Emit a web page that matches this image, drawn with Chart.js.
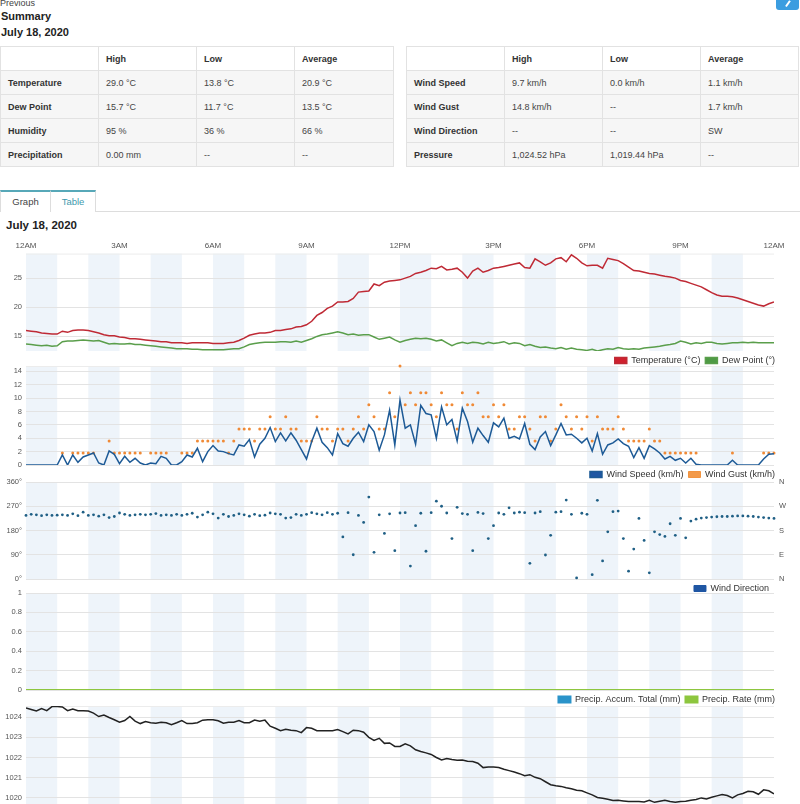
<!DOCTYPE html>
<html>
<head>
<meta charset="utf-8">
<script src="https://cdn.jsdelivr.net/npm/chart.js@4.4.1/dist/chart.umd.min.js"></script>
<style>
  html, body { margin: 0; padding: 0; background: #fff; }
  body { width: 800px; height: 804px; overflow: hidden; position: relative; font-family: "Liberation Sans", Arial, sans-serif; color: #333; }
  .abs { position: absolute; white-space: nowrap; }
  #prev { left: 0; top: -2px; font-size: 9px; color: #444; }
  .head { font-size: 11px; font-weight: bold; color: #222; line-height: 13px; }
  #btn { left: 776px; top: -12px; width: 23px; height: 22px; background: #3b9de0; border-radius: 3px; }
  #btn span { position: absolute; left: 11px; top: 12px; width: 1.5px; height: 7px; background: #fff; transform: rotate(35deg); }
  table.sum { position: absolute; top: 46px; border-collapse: collapse; table-layout: fixed; font-size: 9px; }
  table.sum td { border: 1px solid #e2e2e2; height: 23px; padding: 0 0 0 7px; color: #444; background: #f6f6f6; }
  table.sum tr:first-child td { background: #fff; font-weight: bold; color: #333; }
  table.sum td:first-child { font-weight: bold; color: #333; }
  #tabline { left: 0; top: 211px; width: 800px; height: 1px; background: #ddd; }
  .tab { position: absolute; top: 190px; height: 20px; border-top: 2px solid #57a8b8; border-left: 1px solid #ddd; font-size: 9.5px; line-height: 20px; text-align: center; background: #fff; }
  canvas { position: absolute; left: 0; }
</style>
</head>
<body>
<div id="prev" class="abs">Previous</div>
<div class="abs head" style="left:1px;top:10px">Summary</div>
<div class="abs head" style="left:1px;top:26px">July 18, 2020</div>
<div id="btn" class="abs"><span></span></div>

<table class="sum" style="left:0;width:393px">
  <colgroup><col style="width:98px"><col style="width:98px"><col style="width:98px"><col style="width:99px"></colgroup>
  <tr><td></td><td>High</td><td>Low</td><td>Average</td></tr>
  <tr><td>Temperature</td><td>29.0 °C</td><td>13.8 °C</td><td>20.9 °C</td></tr>
  <tr><td>Dew Point</td><td>15.7 °C</td><td>11.7 °C</td><td>13.5 °C</td></tr>
  <tr><td>Humidity</td><td>95 %</td><td>36 %</td><td>66 %</td></tr>
  <tr><td>Precipitation</td><td>0.00 mm</td><td>--</td><td>--</td></tr>
</table>
<table class="sum" style="left:406px;width:392px">
  <colgroup><col style="width:98px"><col style="width:98px"><col style="width:98px"><col style="width:98px"></colgroup>
  <tr><td></td><td>High</td><td>Low</td><td>Average</td></tr>
  <tr><td>Wind Speed</td><td>9.7 km/h</td><td>0.0 km/h</td><td>1.1 km/h</td></tr>
  <tr><td>Wind Gust</td><td>14.8 km/h</td><td>--</td><td>1.7 km/h</td></tr>
  <tr><td>Wind Direction</td><td>--</td><td>--</td><td>SW</td></tr>
  <tr><td>Pressure</td><td>1,024.52 hPa</td><td>1,019.44 hPa</td><td>--</td></tr>
</table>

<div id="tabline" class="abs"></div>
<div class="tab" style="left:0;width:49px;color:#444">Graph</div>
<div class="tab" style="left:50px;width:44px;color:#3f9aae;border-right:1px solid #ddd">Table</div>
<div class="abs" style="left:6px;top:219px;font-size:11.5px;font-weight:bold;color:#222">July 18, 2020</div>

<canvas id="tempChart" width="800" height="139" style="top:236px"></canvas>
<canvas id="windChart" width="800" height="133" style="top:356px"></canvas>
<canvas id="dirChart" width="800" height="131" style="top:472px"></canvas>
<canvas id="rainChart" width="800" height="131" style="top:583px"></canvas>
<canvas id="pressChart" width="800" height="125" style="top:695px"></canvas>

<script>
// readings every 10 minutes, 12AM to 12AM
const hourTicks = ["12AM", "3AM", "6AM", "9AM", "12PM", "3PM", "6PM", "9PM", "12AM"];

const temperature = [
  16.0, 15.9, 15.8, 15.6, 15.5, 15.4,
  15.4, 15.9, 15.7, 16.0, 16.1, 16.1,
  16.0, 15.8, 15.6, 15.3, 15.1, 15.1,
  14.9, 14.8, 14.6, 14.6, 14.5, 14.4,
  14.3, 14.2, 14.1, 14.1, 13.9, 13.9,
  13.9, 13.8, 13.9, 13.9, 13.9, 13.9,
  13.8, 13.8, 13.8, 13.9, 14.0, 14.3,
  14.7, 15.2, 15.4, 15.6, 15.6, 15.7,
  16.0, 16.0, 16.2, 16.3, 16.6, 16.7,
  17.0, 17.6, 18.6, 19.1, 19.8, 20.2,
  20.9, 20.9, 21.0, 21.5, 22.6, 22.7,
  22.8, 24.0, 23.7, 24.3, 24.5, 24.6,
  24.7, 25.0, 25.3, 25.8, 26.0, 26.3,
  26.7, 26.6, 27.0, 26.4, 26.5, 26.7,
  26.0, 25.0, 26.2, 26.7, 26.0, 26.3,
  26.7, 26.8, 27.0, 27.2, 27.4, 27.6,
  26.8, 26.7, 28.3, 27.8, 27.2, 27.6,
  28.3, 28.5, 27.8, 29.0, 28.4, 27.6,
  27.1, 27.2, 27.2, 26.7, 28.4, 28.2,
  28.0, 27.5, 26.9, 26.3, 26.2, 26.0,
  25.8, 25.7, 25.5, 25.3, 25.2, 25.0,
  24.6, 24.4, 24.1, 23.8, 23.5, 23.0,
  22.5, 22.1, 21.9, 21.9, 21.8, 21.6,
  21.3, 21.0, 20.7, 20.4, 20.2, 20.6,
  20.9
];

const dewPoint = [
  13.7, 13.6, 13.5, 13.4, 13.5, 13.3,
  13.4, 14.1, 14.2, 14.2, 14.3, 14.4,
  14.3, 14.2, 14.3, 14.0, 13.7, 13.8,
  13.7, 13.7, 13.8, 13.6, 13.6, 13.5,
  13.4, 13.3, 13.2, 13.1, 13.0, 12.9,
  12.9, 12.9, 12.8, 12.8, 12.7, 12.7,
  12.7, 12.7, 12.7, 12.8, 12.9, 12.9,
  13.2, 13.6, 13.8, 13.9, 14.0, 14.0,
  14.0, 14.1, 14.1, 14.0, 14.2, 14.0,
  14.3, 14.6, 15.0, 15.3, 15.4, 15.6,
  15.8, 15.6, 15.3, 15.4, 15.2, 15.3,
  15.3, 14.9, 14.5, 14.7, 14.9, 14.4,
  14.0, 14.3, 14.5, 14.7, 14.6, 14.7,
  14.5, 14.2, 14.4, 13.9, 13.4, 13.8,
  14.0, 13.8, 14.0, 13.9, 13.7, 14.0,
  13.8, 13.9, 14.1, 13.7, 13.9, 13.8,
  13.4, 13.6, 13.3, 13.1, 13.2, 13.0,
  12.9, 13.1, 12.8, 13.0, 12.8, 12.7,
  12.6, 12.8, 12.5, 12.7, 12.9, 12.8,
  13.1, 12.9, 12.8, 12.9, 12.8, 13.0,
  13.1, 13.2, 13.3, 13.5, 13.6, 13.8,
  14.2, 14.0, 13.7, 13.9, 13.8, 14.0,
  14.0, 13.8, 13.7, 13.8, 13.9, 13.9,
  14.0, 13.9, 14.0, 13.9, 13.9, 13.9,
  13.9
];

const windSpeed = [
  0, 0, 0, 0, 0, 0, 0,
  1.5, 0, 1.5, 0.4, 1.2, 1.5,
  1.8, 0.3, 0, 2.1, 1.6, 0.2,
  1.3, 0.4, 1.0, 0.3, 0, 0.3,
  0.2, 1.3, 1.0, 0, 0, 0.5,
  1.5, 1.2, 2.5, 0.5, 2.0, 2.9,
  2.1, 2.0, 1.7, 1.5, 3.0, 2.8,
  3.8, 1.2, 3.1, 4.0, 5.6, 3.5,
  4.8, 3.6, 4.8, 3.7, 2.3, 0.9,
  3.5, 5.5, 3.4, 2.6, 1.5, 4.7,
  3.2, 2.8, 4.0, 4.9, 3.5, 6.0,
  5.0, 2.2, 4.5, 8.2, 3.0, 9.7,
  5.5, 6.0, 3.1, 8.9, 7.7, 7.5,
  4.0, 8.7, 6.0, 6.8, 3.6, 8.5,
  6.5, 3.4, 5.5, 4.4, 3.4, 6.3,
  5.7, 7.0, 4.0, 4.3, 3.9, 6.2,
  3.1, 2.3, 4.2, 5.0, 2.9, 4.5,
  6.2, 4.5, 4.6, 4.0, 3.3, 4.0,
  2.1, 4.7, 1.6, 3.0, 3.3, 3.9,
  3.2, 2.8, 1.1, 2.6, 1.0, 2.9,
  2.4, 1.8, 0.9, 1.3, 0.7, 1.0,
  0.3, 1.0, 0.1, 0, 0, 0,
  0, 0, 0, 0.7, 0, 0,
  0, 0, 0, 0.9, 1.6, 1.7
];

const windGust = [
  null, null, null, null, null, null, null,
  1.8, null, 1.8, 1.8, 1.8, 1.8,
  1.8, null, null, 3.6, 1.8, 1.8,
  1.8, 1.8, 1.8, 1.8, null, 1.8,
  1.8, 1.8, 1.8, null, null, 1.8,
  1.8, 1.8, 3.6, 3.6, 3.6, 3.6,
  3.6, 3.6, 1.8, 3.6, 5.4, 5.4,
  5.4, 3.6, 5.4, 5.4, 7.2, 5.4,
  5.4, 7.2, 5.4, 5.4, 3.6, 3.6,
  3.6, 7.2, 5.4, 5.4, 3.6, 5.4,
  5.4, 3.6, 5.4, 7.2, 5.4, 9.0,
  7.2, 5.4, 5.4, 10.8, 7.2, 14.8,
  9.0, 10.8, 9.0, 10.8, 10.8, 9.0,
  7.2, 10.8, 9.0, 9.0, 5.4, 10.8,
  9.0, 9.0, 10.8, 7.2, 7.2, 9.0,
  7.2, 9.0, 5.4, 5.4, 7.2, 7.2,
  5.4, 3.6, 7.2, 7.2, 3.6, 5.4,
  9.0, 7.2, 5.4, 7.2, 5.4, 7.2,
  3.6, 7.2, 5.4, 5.4, 5.4, 7.2,
  5.4, 3.6, 3.6, 3.6, 3.6, 5.4,
  3.6, 3.6, 1.8, 1.8, 1.8, 1.8,
  1.8, 1.8, 1.8, null, null, null,
  null, null, null, 1.8, null, null,
  null, null, null, 1.8, 1.8, 1.8
];

const windDirection = [
  236, 240, 238, 235, 238, 236,
  237, 238, 236, 242, 235, 248,
  236, 238, 233, 238, 228, 232,
  245, 240, 236, 238, 240, 238,
  240, 243, 236, 238, 236, 240,
  236, 240, 244, 230, 238, 248,
  242, 226, 240, 232, 236, 242,
  238, 233, 240, 235, 237, 245,
  242, 240, 226, 228, 240, 236,
  240, 246, 242, 238, 246, 240,
  244, 156, 246, 90, 236, 210,
  304, 99, 238, 169, 242, 105,
  245, 246, 48, 198, 244, 103,
  246, 289, 270, 245, 150, 266,
  243, 240, 105, 247, 243, 150,
  198, 245, 240, 264, 245, 248,
  246, 58, 245, 250, 89, 162,
  248, 250, 293, 240, 4, 244,
  240, 16, 292, 67, 175, 250,
  252, 150, 29, 111, 225, 143,
  23, 175, 165, 158, 205, 162,
  225, 153, 215, 222, 226, 228,
  230, 231, 232, 232, 233, 234,
  234, 233, 232, 230, 228, 226,
  225
];

// hourly precipitation, nothing fell all day
const precipAccum = [0, 0, 0, 0, 0, 0, 0, 0, 0, 0, 0, 0, 0, 0, 0, 0, 0, 0, 0, 0, 0, 0, 0, 0, 0];
const precipRate = [0, 0, 0, 0, 0, 0, 0, 0, 0, 0, 0, 0, 0, 0, 0, 0, 0, 0, 0, 0, 0, 0, 0, 0, 0];

const pressure = [
  1024.45, 1024.38, 1024.3, 1024.42, 1024.32, 1024.52,
  1024.52, 1024.5, 1024.32, 1024.4, 1024.32, 1024.32,
  1024.3, 1024.2, 1024.03, 1024.1, 1023.98, 1023.87,
  1023.75, 1023.83, 1024.03, 1023.8, 1023.68, 1023.78,
  1023.72, 1023.7, 1023.75, 1023.72, 1023.62, 1023.72,
  1023.83, 1023.68, 1023.68, 1023.72, 1023.85, 1023.87,
  1023.87, 1023.82, 1023.7, 1023.75, 1023.75, 1023.83,
  1023.72, 1023.72, 1023.85, 1023.8, 1023.85, 1023.55,
  1023.45, 1023.33, 1023.4, 1023.35, 1023.33, 1023.23,
  1023.48, 1023.45, 1023.33, 1023.33, 1023.33, 1023.33,
  1023.38, 1023.28, 1023.17, 1023.35, 1023.33, 1023.25,
  1023.0, 1022.85, 1022.95, 1022.7, 1022.72, 1022.55,
  1022.55, 1022.68, 1022.58, 1022.38, 1022.3, 1022.23,
  1022.15, 1022.0, 1021.88, 1021.95, 1021.9, 1021.87,
  1021.88, 1021.82, 1021.8, 1021.72, 1021.5, 1021.53,
  1021.53, 1021.5, 1021.42, 1021.35, 1021.28, 1021.2,
  1021.1, 1021.15, 1021.02, 1020.95, 1020.8, 1020.65,
  1020.6, 1020.57, 1020.5, 1020.45, 1020.38, 1020.35,
  1020.25, 1020.15, 1020.02, 1019.98, 1019.93, 1019.87,
  1019.88, 1019.85, 1019.82, 1019.82, 1019.82, 1019.8,
  1019.88, 1019.78, 1019.83, 1019.88, 1019.82, 1019.78,
  1019.82, 1019.83, 1019.88, 1019.92, 1020.0, 1019.95,
  1020.03, 1020.1, 1020.17, 1020.12, 1020.0, 1020.15,
  1020.22, 1020.33, 1020.3, 1020.18, 1020.4, 1020.35,
  1020.2
];

const tempTicks = [15, 20, 25];
const windTicks = [0, 2, 4, 6, 8, 10, 12, 14];
const dirTicks = [0, 90, 180, 270, 360];
const compassTicks = ["N", "E", "S", "W", "N"];
const rainTicks = [0, 0.2, 0.4, 0.6, 0.8, 1];
const pressureTicks = [1020, 1021, 1022, 1023, 1024];

const FONT = '"Liberation Sans", Arial, sans-serif';
const tickFont = { family: FONT, size: 7.5 };

// x in hours
const every10min = arr => arr.map((v, i) => ({ x: i / 6, y: v }));
const hourly = arr => arr.map((v, i) => ({ x: i, y: v }));

// light stripe on every other hour, behind the grid
const hourBands = {
  id: "hourBands",
  beforeDraw(chart) {
    const { ctx, chartArea: a, scales: { x } } = chart;
    ctx.save();
    ctx.fillStyle = "#eef4fa";
    for (let h = 0; h < 24; h += 2) {
      const x0 = x.getPixelForValue(h);
      const x1 = x.getPixelForValue(h + 1);
      ctx.fillRect(x0, a.top, x1 - x0, a.bottom - a.top);
    }
    ctx.strokeStyle = "#ececec";
    ctx.lineWidth = 1;
    ctx.beginPath();
    ctx.moveTo(a.left, a.top + 0.5);
    ctx.lineTo(a.right, a.top + 0.5);
    ctx.stroke();
    ctx.restore();
  }
};

function panel(id, cfg) {
  // the compass axis needs room for its letters, the others only a thin gutter
  const rightW = cfg.right ? 26 : 6;
  const y = {
    min: cfg.min,
    max: cfg.max,
    afterBuildTicks: s => { s.ticks = cfg.ticks.map(v => ({ value: v })); },
    afterFit: s => { s.width = 26; },
    ticks: { color: "#555", font: tickFont, padding: 4, callback: cfg.fmt || (v => String(v)) },
    grid: { color: "#e3e3e3", drawTicks: false },
    border: { display: false }
  };
  const y2 = {
    position: "right",
    min: cfg.min,
    max: cfg.max,
    afterBuildTicks: s => { s.ticks = cfg.ticks.map(v => ({ value: v })); },
    afterFit: s => { s.width = rightW; },
    ticks: { display: !!cfg.right, color: "#555", font: tickFont, padding: 5, callback: (v, i) => (cfg.right ? cfg.right[i] : "") },
    grid: { display: false, drawTicks: false },
    border: { display: false }
  };
  const x = cfg.topAxis ? {
    type: "linear", min: 0, max: 24, position: "top",
    ticks: { stepSize: 3, autoSkip: false, maxRotation: 0, color: "#555", font: { family: FONT, size: 8 }, padding: 3,
             callback: v => hourTicks[v / 3] },
    grid: { display: false, drawTicks: false },
    border: { display: false }
  } : { type: "linear", min: 0, max: 24, display: false };

  return new Chart(document.getElementById(id), {
    type: "line",
    data: { datasets: cfg.datasets },
    options: {
      animation: false,
      responsive: false,
      layout: { padding: { top: cfg.padTop, right: 26 - rightW, bottom: cfg.padBottom || 0, left: 0 } },
      scales: { x, y, y2 },
      plugins: {
        tooltip: { enabled: false },
        legend: cfg.noLegend ? { display: false } : {
          position: "bottom",
          align: "end",
          fullSize: !cfg.right,
          labels: { boxWidth: 12, boxHeight: 6, padding: 5, color: "#333", font: { family: FONT, size: 9 },
                    sort: (a, b) => a.datasetIndex - b.datasetIndex }
        }
      }
    },
    plugins: [hourBands]
  });
}

panel("tempChart", {
  topAxis: true, padTop: 2, min: 12.5, max: 29.2, ticks: tempTicks,
  datasets: [
    { label: "Temperature (°C)", data: every10min(temperature), yAxisID: "y", borderColor: "#bf2a35",
      backgroundColor: "#d0202e", borderWidth: 1.5, pointRadius: 0, tension: 0 },
    { label: "Dew Point (°)", data: every10min(dewPoint), yAxisID: "y", borderColor: "#5a9e4b",
      backgroundColor: "#4e9a45", borderWidth: 1.5, pointRadius: 0, tension: 0 }
  ]
});

panel("windChart", {
  padTop: 10, min: 0, max: 14.8, ticks: windTicks,
  datasets: [
    { label: "Wind Speed (km/h)", data: every10min(windSpeed), yAxisID: "y", borderColor: "#1d5a96",
      backgroundColor: "#1f56a3", borderWidth: 1.5, pointRadius: 0, tension: 0 },
    { label: "Wind Gust (km/h)", data: every10min(windGust), yAxisID: "y", showLine: false, clip: 4,
      borderColor: "#f29440", backgroundColor: "#f39a4a", borderWidth: 1,
      pointRadius: 1.5, pointBorderWidth: 0, pointBackgroundColor: "#f08a36" }
  ]
});

panel("dirChart", {
  padTop: 10, min: 0, max: 360, ticks: dirTicks, fmt: v => v + "°", right: compassTicks,
  datasets: [
    { label: "Wind Direction", data: every10min(windDirection), yAxisID: "y", showLine: false, clip: 4,
      borderColor: "#1f56a3", backgroundColor: "#1f56a3", borderWidth: 1,
      pointRadius: 1.4, pointBorderWidth: 0, pointBackgroundColor: "#1f5f85" }
  ]
});

panel("rainChart", {
  padTop: 10, min: 0, max: 1, ticks: rainTicks,
  datasets: [
    { label: "Precip. Accum. Total (mm)", data: hourly(precipAccum), yAxisID: "y", order: 1,
      borderColor: "#2a93c9", backgroundColor: "#2a93c9", borderWidth: 2, pointRadius: 0 },
    { label: "Precip. Rate (mm)", data: hourly(precipRate), yAxisID: "y", order: 0,
      borderColor: "#8dc63f", backgroundColor: "#8dc63f", borderWidth: 2, pointRadius: 0 }
  ]
});

panel("pressChart", {
  padTop: 11, padBottom: 12, noLegend: true, min: 1019.5, max: 1024.55, ticks: pressureTicks,
  datasets: [
    { label: "Pressure (hPa)", data: every10min(pressure), yAxisID: "y", borderColor: "#222",
      backgroundColor: "#222", borderWidth: 1.5, pointRadius: 0, tension: 0 }
  ]
});
</script>
</body>
</html>
